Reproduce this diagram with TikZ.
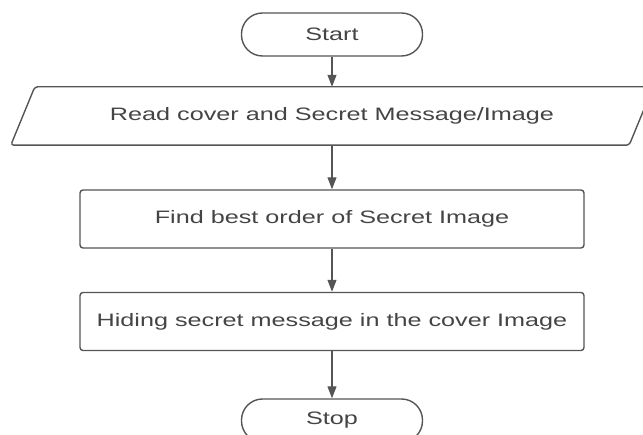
\documentclass[tikz,border=0pt]{standalone}
\usepackage{fontspec}
\setmainfont{Liberation Sans}[FakeStretch=1.4]
\usetikzlibrary{arrows.meta}
\definecolor{linegray}{HTML}{555555}
\definecolor{textgray}{HTML}{444444}

\begin{document}
\begin{tikzpicture}[x=1pt, y=-1pt,
        boxtext/.style={inner sep=0pt, text=textgray, font=\fontsize{18}{20}\selectfont},
        terminal/.style={boxtext, draw=linegray, line width=1.4pt, rounded corners=21pt, minimum width=181pt, minimum height=43pt},
        process/.style={boxtext, draw=linegray, line width=1.4pt, rounded corners=3pt, minimum width=504pt, minimum height=58pt},
        inout/.style={boxtext, minimum width=618pt, minimum height=58pt},
        flow/.style={draw=linegray, line width=1.1pt, -{Triangle[length=12pt, width=9pt]}}]

        \useasboundingbox (0, 0) rectangle (643, 435);

        \node[terminal] (start) at (332, 34.5) {Start};

        \node[inout] (read) at (332, 116) {Read cover and Secret Message/Image};
        \draw[linegray, line width=1.4pt, rounded corners=3pt] ([xshift=-12pt]read.south west) -- ([xshift=-12pt]read.south east) -- ([xshift=12pt]read.north east) -- ([xshift=12pt]read.north west) -- cycle;

        \node[process] (order) at (332, 219) {Find best order of Secret Image};

        \node[process] (hide) at (332, 321.5) {Hiding secret message in the cover Image};

        \node[terminal] (stop) at (332, 420.5) {Stop};

        \draw[flow] (start) -- (read);
        \draw[flow] (read) -- (order);
        \draw[flow] (order) -- (hide);
        \draw[flow] (hide) -- (stop);

    \end{tikzpicture}
\end{document}
